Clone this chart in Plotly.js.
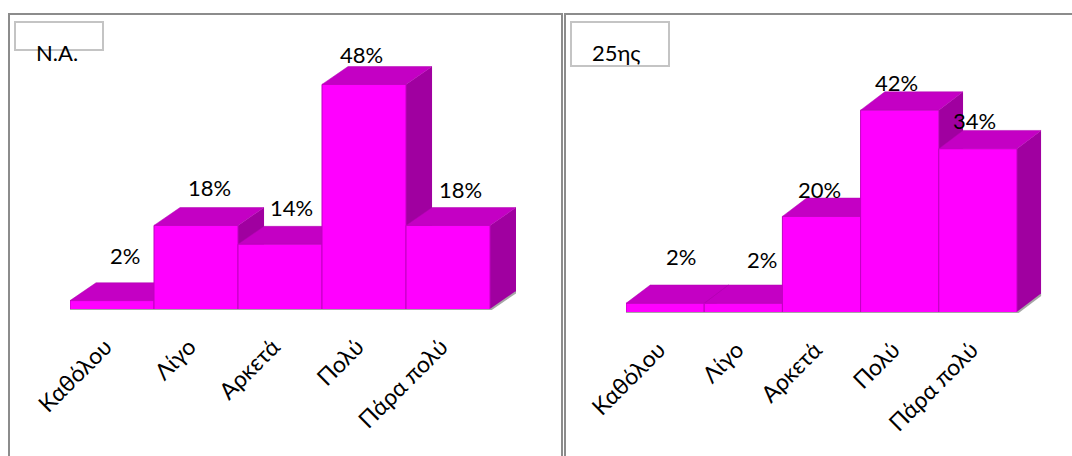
<!DOCTYPE html>
<html>
<head>
<meta charset="utf-8">
<script src="https://cdn.plot.ly/plotly-3.0.1.min.js"></script>
<style>html,body{margin:0;padding:0;background:#fff;}</style>
</head>
<body>
<div id="chart" style="width:1072px;height:456px"></div>
<script>
// Survey answers, in percent, for the two groups
const categories = ['Καθόλου', 'Λίγο', 'Αρκετά', 'Πολύ', 'Πάρα πολύ'];
const valuesNA = [2, 18, 14, 48, 18];
const values25 = [2, 2, 20, 42, 34];
const panelTitles = ['N.A.', '25ης'];

const W = 1072, H = 456;
const FONT = 'Lato, "Noto Sans", sans-serif';
const FRONT = '#FF00FF', TOP = '#C400C4', TOP_EDGE = '#B000B0', SIDE = '#A000A0', SEAM = '#C000C0';

// Extrusion of the pseudo-3D boxes, in axis units
const depthX = 0.31, depthY = 3.8;
const yMax = 60;
// Tick labels lean back from their bars by this much, in category units
const tickLean = 0.08;

const panels = [
  { values: valuesNA, left: 70, right: 490, base: 310, pxPerPct: 4.7, xa: 'x', ya: 'y', overlay: 'y3',
    nudgeX: [13, 13, 11, -3, 12], nudgeY: [45, 38, 37, 30, 36] },
  { values: values25, left: 626, right: 1017, base: 313, pxPerPct: 4.83, xa: 'x2', ya: 'y2', overlay: 'y4',
    nudgeX: [16, 19, -2, -3, -3], nudgeY: [47, 44, 27, 28, 28] }
];

const traces = [], annotations = [], shapes = [], layoutAxes = {};

panels.forEach(p => {
  const barPx = (p.right - p.left) / categories.length;
  const xDomain = [p.left / W, (p.right + depthX * barPx) / W];
  const yDomain = [1 - p.base / H, 1 - (p.base - yMax * p.pxPerPct) / H];
  const xRange = [-0.5, categories.length - 0.5 + depthX];

  // Top and side faces, polygons separated by gaps
  const sideX = [], sideY = [], topX = [], topY = [];
  p.values.forEach((v, i) => {
    const x0 = i - 0.5, x1 = i + 0.5;
    sideX.push(x1, x1 + depthX, x1 + depthX, x1, x1, null);
    sideY.push(0, depthY, v + depthY, v, 0, null);
    topX.push(x0, x0 + depthX, x1 + depthX, x1, x0, null);
    topY.push(v, v + depthY, v + depthY, v, v, null);
  });
  const face = (x, y, color, line) => ({
    type: 'scatter', mode: 'lines', x, y, xaxis: p.xa, yaxis: p.ya,
    fill: 'toself', fillcolor: color, line, hoverinfo: 'skip', showlegend: false
  });
  traces.push(
    face(sideX, sideY, SIDE, { width: 0 }),
    face(topX, topY, TOP, { color: TOP_EDGE, width: 0.5 })
  );

  // Front faces sit on an overlaying axis so they cover the neighbouring side faces
  traces.push({
    type: 'bar', x: categories.map((c, i) => i), y: p.values, width: 1,
    xaxis: p.xa, yaxis: p.overlay,
    marker: { color: FRONT, line: { color: SEAM, width: 1 } },
    hoverinfo: 'skip', showlegend: false
  });

  const xKey = p.xa === 'x' ? 'xaxis' : 'xaxis2';
  const yKey = p.ya === 'y' ? 'yaxis' : 'yaxis2';
  const ovKey = 'yaxis' + p.overlay.slice(1);
  layoutAxes[xKey] = {
    domain: xDomain, range: xRange, anchor: p.ya, fixedrange: true,
    tickmode: 'array', tickvals: categories.map((c, i) => i - tickLean), ticktext: categories,
    tickangle: -45, ticks: '', showgrid: false, zeroline: false, showline: false,
    ticklabelstandoff: 18, tickfont: { family: FONT, size: 23, color: '#000' }
  };
  layoutAxes[yKey] = {
    domain: yDomain, range: [0, yMax], anchor: p.xa, fixedrange: true,
    showgrid: false, zeroline: false, showline: false, showticklabels: false, ticks: ''
  };
  layoutAxes[ovKey] = {
    range: [0, yMax], overlaying: p.ya, anchor: p.xa, fixedrange: true,
    showgrid: false, zeroline: false, showline: false, showticklabels: false, ticks: ''
  };

  // Floor edge running along the base and back along the depth
  const floorLine = { color: '#A6A6A6', width: 2 };
  shapes.push(
    { type: 'line', xref: p.xa, yref: p.ya, x0: xRange[0] - 0.02, y0: 0, x1: xRange[1] - depthX, y1: 0, line: floorLine, layer: 'above' },
    { type: 'line', xref: p.xa, yref: p.ya, x0: xRange[1] - depthX, y0: 0, x1: xRange[1], y1: depthY, line: floorLine, layer: 'above' }
  );

  p.values.forEach((v, i) => annotations.push({
    x: i, y: v, xref: p.xa, yref: p.overlay, text: v + '%', showarrow: false,
    xanchor: 'center', yanchor: 'middle',
    xshift: p.nudgeX[i], yshift: p.nudgeY[i],
    font: { family: FONT, size: 22, color: '#000' }
  }));
});

// Panel frames and title boxes, placed on the page
const paper = (x0, y0, x1, y1, line) => ({
  type: 'rect', xref: 'paper', yref: 'paper',
  x0: x0 / W, x1: x1 / W, y0: 1 - y1 / H, y1: 1 - y0 / H, line, layer: 'above'
});
const frameLine = { color: '#8C8C8C', width: 2 };
const boxLine = { color: '#C4C4C4', width: 2 };
shapes.push(
  paper(9, 14, 562, 470, frameLine),
  paper(565, 14, 1080, 470, frameLine),
  paper(15, 22, 103, 50, boxLine),
  paper(571, 22, 669, 66, boxLine)
);
[[57, 52], [616, 52]].forEach((pos, i) => annotations.push({
  x: pos[0] / W, y: 1 - pos[1] / H, xref: 'paper', yref: 'paper', text: panelTitles[i],
  xanchor: 'center', yanchor: 'middle',
  showarrow: false, font: { family: FONT, size: 22, color: '#000' }
}));

Plotly.newPlot('chart', traces, Object.assign({
  width: W, height: H, margin: { l: 0, r: 0, t: 0, b: 0 },
  paper_bgcolor: '#fff', plot_bgcolor: 'rgba(0,0,0,0)', showlegend: false,
  bargap: 0, annotations, shapes
}, layoutAxes), { displayModeBar: false, staticPlot: true });
</script>
</body>
</html>
